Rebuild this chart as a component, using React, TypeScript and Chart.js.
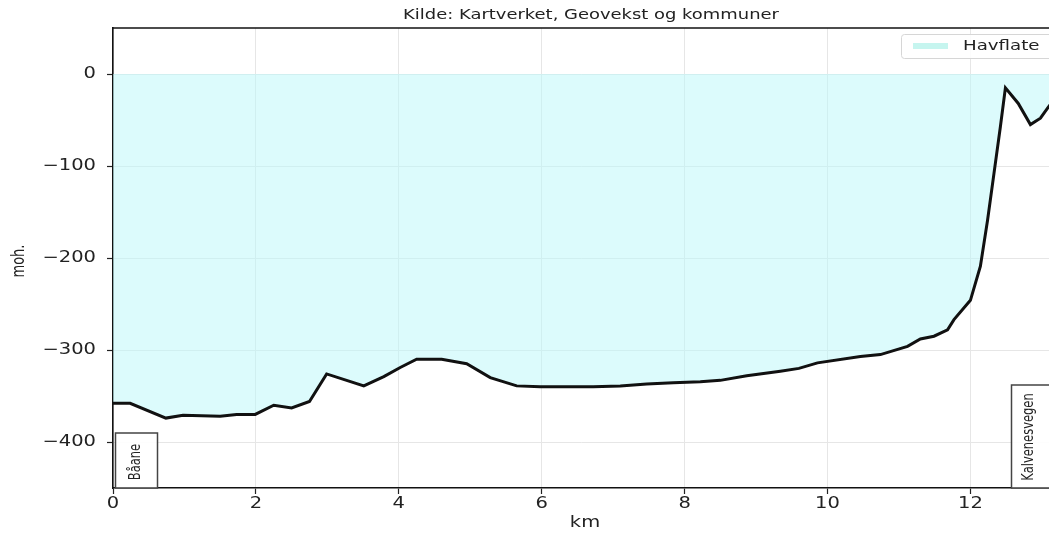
import React, { useEffect, useRef } from "react";
import { Chart, registerables } from "chart.js";

Chart.register(...registerables);

// Distance along the profile (km) and elevation (moh.)
const distanceKm: number[] = [
  0, 0.24, 0.74, 0.98, 1.5, 1.73, 1.99, 2.25, 2.5, 2.75, 2.99, 3.51, 3.79, 4.02,
  4.25, 4.6, 4.95, 5.28, 5.65, 5.98, 6.72, 7.1, 7.47, 7.84, 8.22, 8.5, 8.87, 9.34,
  9.6, 9.86, 10.46, 10.74, 11.12, 11.3, 11.49, 11.68, 11.77, 12.0, 12.14, 12.24,
  12.33, 12.42, 12.49, 12.67, 12.84, 12.98, 13.08, 13.2,
];
const elevation: number[] = [
  -358, -358, -374, -371, -372, -370, -370, -360, -363, -356, -326, -339, -329, -319,
  -310, -310, -315, -330, -339, -340, -340, -339, -337, -335.5, -334.5, -333, -328, -323,
  -320, -314, -307, -305, -296, -288, -285, -278, -267, -246, -209, -159,
  -108, -57, -15, -32, -55, -48, -37, -25,
];

const xTicks: number[] = [0, 2, 4, 6, 8, 10, 12];
const yTicks: number[] = [-400, -300, -200, -100, 0];

const titleText = "Kilde: Kartverket, Geovekst og kommuner";
const xLabel = "km";
const yLabel = "moh.";
const legendLabel = "Havflate";
const startLabel = "Båane";
const endLabel = "Kalvenesvegen";

const SX = 1.3; // horizontal text stretch as in the reference

function drawText(
  ctx: CanvasRenderingContext2D,
  text: string,
  x: number,
  y: number,
  size: number,
  opts: { rot?: number; align?: CanvasTextAlign; color?: string; sx?: number } = {}
) {
  ctx.save();
  ctx.translate(x, y);
  ctx.scale(opts.sx || SX, 1);
  ctx.rotate(opts.rot || 0);
  ctx.font = `${size}px "DejaVu Sans"`;
  ctx.textAlign = opts.align || "center";
  ctx.textBaseline = "middle";
  ctx.fillStyle = opts.color || "#222";
  ctx.fillText(text, 0, 0);
  ctx.restore();
}

const decorPlugin = {
  id: "decor",
  afterDraw(chart: any) {
    const ctx: CanvasRenderingContext2D = chart.ctx;
    const area = chart.chartArea;
    const xs = chart.scales.x;
    const ys = chart.scales.y;

    // top border
    ctx.save();
    ctx.strokeStyle = "#111";
    ctx.lineWidth = 1.5;
    ctx.beginPath();
    ctx.moveTo(area.left, area.top);
    ctx.lineTo(area.right, area.top);
    ctx.stroke();
    ctx.restore();

    // tick labels
    for (const v of yTicks) {
      const y = ys.getPixelForValue(v);
      const s = v < 0 ? "\u2212" + Math.abs(v) : String(v);
      drawText(ctx, s, area.left - 17, y, 15, { align: "right" });
    }
    for (const v of xTicks) {
      const x = xs.getPixelForValue(v);
      drawText(ctx, String(v), x, area.bottom + 16, 15);
    }

    // title & axis labels
    drawText(ctx, titleText, (area.left + area.right) / 2 + 10, 15, 13.8);
    drawText(ctx, xLabel, (area.left + area.right) / 2 + 4, area.bottom + 35, 15);
    drawText(ctx, yLabel, 19, (area.top + area.bottom) / 2 + 3, 13, { rot: -Math.PI / 2, sx: 1.4 });

    // legend
    ctx.save();
    const lx = area.right - 148;
    const ly = area.top + 6;
    const lw = 160;
    const lh = 24;
    ctx.fillStyle = "rgba(255,255,255,0.85)";
    ctx.strokeStyle = "#d6d6d6";
    ctx.lineWidth = 1;
    ctx.beginPath();
    (ctx as any).roundRect(lx + 0.5, ly + 0.5, lw, lh, 3);
    ctx.fill();
    ctx.stroke();
    ctx.strokeStyle = "#c6f5ef";
    ctx.lineWidth = 6;
    ctx.beginPath();
    ctx.moveTo(lx + 12, ly + 12);
    ctx.lineTo(lx + 47, ly + 12);
    ctx.stroke();
    ctx.restore();
    drawText(ctx, legendLabel, lx + 62, ly + 12, 14, { align: "left" });

    // start / end annotation boxes
    ctx.save();
    ctx.strokeStyle = "#444";
    ctx.lineWidth = 1.5;
    ctx.fillStyle = "rgba(255,255,255,0.9)";
    const x0 = xs.getPixelForValue(distanceKm[0]);
    ctx.fillRect(x0 + 2, area.bottom - 55, 42, 55);
    ctx.strokeRect(x0 + 2.5, area.bottom - 55, 42, 55);
    ctx.fillRect(area.right - 37, area.bottom - 103, 60, 103);
    ctx.strokeRect(area.right - 37.5, area.bottom - 103, 60, 103);
    ctx.restore();
    drawText(ctx, startLabel, x0 + 22.5, area.bottom - 26, 11.5, { rot: -Math.PI / 2, sx: 1.4 });
    drawText(ctx, endLabel, area.right - 20, area.bottom - 51, 11.5, { rot: -Math.PI / 2, sx: 1.4 });
  },
};

export default function App() {
  const ref = useRef<HTMLCanvasElement | null>(null);

  useEffect(() => {
    if (!ref.current) return;
    const pts = distanceKm.map((d, i) => ({ x: d, y: elevation[i] }));
    const chart = new Chart(ref.current, {
      type: "line",
      data: {
        datasets: [
          {
            label: "Terreng",
            data: pts,
            borderColor: "#111",
            borderWidth: 3,
            pointRadius: 0,
            fill: false,
            tension: 0,
          },
          {
            label: legendLabel,
            data: pts,
            borderWidth: 0,
            borderColor: "rgba(0,0,0,0)",
            backgroundColor: "rgba(185,247,249,0.5)",
            pointRadius: 0,
            fill: "origin",
            tension: 0,
          },
        ],
      },
      options: {
        animation: false,
        responsive: false,
        devicePixelRatio: 1,
        layout: { padding: { top: 28, left: 0, right: 0, bottom: 0 } },
        plugins: {
          legend: { display: false },
          tooltip: { enabled: false },
        },
        scales: {
          x: {
            type: "linear",
            min: 0,
            max: 13.1,
            afterBuildTicks: (s: any) => {
              s.ticks = xTicks.map((v) => ({ value: v }));
            },
            afterFit: (s: any) => {
              s.height = 45;
            },
            ticks: { display: false },
            grid: {
              color: "#e6e6e6",
              lineWidth: 1,
              drawTicks: true,
              tickLength: 6,
              tickColor: "#222",
              tickWidth: 1.2,
            },
            border: { display: true, color: "#111", width: 1.6 },
          },
          y: {
            type: "linear",
            min: -450,
            max: 50,
            afterBuildTicks: (s: any) => {
              s.ticks = yTicks.map((v) => ({ value: v }));
            },
            afterFit: (s: any) => {
              s.width = 113;
            },
            ticks: { display: false },
            grid: {
              color: "#e6e6e6",
              lineWidth: 1,
              drawTicks: true,
              tickLength: 6,
              tickColor: "#222",
              tickWidth: 1.2,
            },
            border: { display: true, color: "#111", width: 1.6 },
          },
        },
      },
      plugins: [decorPlugin],
    });
    return () => chart.destroy();
  }, []);

  return (
    <div style={{ position: "absolute", left: 0, top: 0, width: 1049, height: 533, background: "#fff" }}>
      <canvas ref={ref} width={1049} height={533} style={{ display: "block" }} />
    </div>
  );
}
